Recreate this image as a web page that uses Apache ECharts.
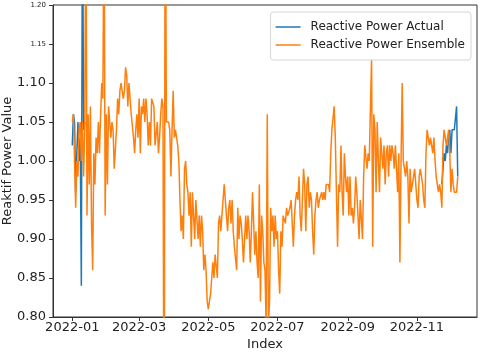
<!DOCTYPE html>
<html>
<head>
<meta charset="utf-8">
<script src="https://cdn.jsdelivr.net/npm/echarts@6/dist/echarts.min.js"></script>
<style>
  html, body { margin: 0; padding: 0; background: #fff; }
  #chart { width: 480px; height: 354px; }
</style>
</head>
<body>
<div id="chart"></div>
<script>
// day offsets from 2022-01-01
const tickDays = [0, 59, 120, 181, 243, 304];
const tickLabels = ['2022-01', '2022-03', '2022-05', '2022-07', '2022-09', '2022-11'];

// Reactive Power Ensemble, daily from 2022-01-01 (day 0) to day 340
const ensemble = [
    1.05, 1.06, 1.06, 0.94, 1.00, 0.98, 1.04, 1.05, 1.00, 1.05,
    0.98, 1.04, 1.35, 0.93, 1.06, 0.97, 1.07, 0.92, 0.86, 1.01,
    0.97, 1.03, 1.01, 1.05, 1.01, 1.06, 1.10, 1.08, 1.35, 0.93,
    1.06, 0.97, 1.07, 1.07, 1.03, 1.05, 1.04, 0.99, 0.99, 1.04,
    1.08, 1.06, 1.09, 1.10, 1.09, 1.08, 1.09, 1.12, 1.11, 1.07,
    1.10, 1.08, 1.06, 1.06, 1.03, 1.01, 1.04, 1.06, 1.03, 1.08,
    1.01, 1.07, 1.06, 1.08, 1.05, 1.08, 1.06, 1.02, 1.05, 1.02,
    1.08, 1.08, 1.07, 1.02, 1.02, 1.05, 1.01, 1.03, 1.06, 1.08,
    1.07, 0.55, 1.45, 1.05, 1.05, 1.05, 1.04, 0.98, 1.04, 1.09,
    1.03, 1.04, 1.04, 1.02, 1.00, 0.95, 0.91, 0.93, 0.90, 0.99,
    1.00, 0.97, 0.96, 0.93, 0.96, 0.89, 0.96, 0.93, 0.90, 0.95,
    0.95, 0.90, 0.93, 0.89, 0.93, 0.91, 0.86, 0.88, 0.86, 0.82,
    0.81, 0.81, 0.83, 0.85, 0.87, 0.85, 0.88, 0.88, 0.85, 0.92,
    0.93, 0.91, 0.93, 0.95, 0.97, 0.95, 0.93, 0.91, 0.94, 0.95,
    0.92, 0.95, 0.91, 0.89, 0.89, 0.86, 0.94, 0.90, 0.93, 0.92,
    0.90, 0.87, 0.87, 0.93, 0.90, 0.93, 0.91, 0.87, 0.91, 0.96,
    0.92, 0.88, 0.91, 0.87, 0.85, 0.97, 0.82, 0.93, 0.91, 0.87,
    0.86, 0.79, 1.06, 0.79, 0.82, 0.94, 0.91, 0.93, 0.89, 0.93,
    0.90, 0.91, 0.86, 0.83, 0.91, 0.89, 0.93, 0.93, 0.92, 0.94,
    0.93, 0.93, 0.94, 0.95, 0.95, 0.89, 0.93, 0.95, 0.96, 0.95,
    0.98, 0.93, 0.91, 0.95, 0.99, 0.97, 0.91, 0.97, 0.98, 0.94,
    0.96, 0.95, 0.91, 0.88, 0.93, 0.95, 0.96, 0.94, 0.95, 0.95,
    0.96, 0.95, 0.96, 0.95, 0.97, 0.97, 0.97, 0.96, 1.01, 1.04,
    1.04, 1.07, 1.03, 0.96, 0.89, 0.97, 0.96, 1.02, 0.96, 0.93,
    1.01, 0.98, 0.96, 0.98, 0.93, 0.98, 0.93, 0.94, 0.92, 0.94,
    0.98, 0.96, 0.96, 0.90, 0.95, 0.95, 0.90, 0.98, 1.02, 1.02,
    0.99, 1.01, 1.00, 1.07, 1.13, 0.89, 1.06, 1.04, 0.96, 1.05,
    1.00, 0.96, 1.03, 1.03, 0.99, 1.02, 0.97, 1.01, 1.02, 0.98,
    1.02, 1.00, 1.02, 1.01, 0.99, 1.02, 1.02, 0.96, 1.01, 0.87,
    1.00, 1.10, 1.00, 0.99, 0.98, 1.00, 0.98, 0.92, 0.99, 0.96,
    0.96, 0.98, 0.99, 0.97, 0.95, 0.94, 0.98, 0.99, 0.99, 0.97,
    0.95, 0.94, 1.01, 1.04, 1.03, 1.02, 1.03, 1.02, 1.01, 1.03,
    1.00, 0.98, 0.97, 0.96, 0.97, 0.96, 0.94, 1.02, 1.04, 1.04,
    1.02, 1.02, 1.04, 1.01, 0.96, 0.99, 0.97, 0.96, 0.96, 0.96,
    0.98
];

// Reactive Power Actual: only where it differs from the ensemble (elsewhere hidden beneath it)
const actualHeadStart = 0;
const actualHead = [1.02, 1.06, 1.05, 0.96, 1.01, 1.05, 1.00, 1.03, 0.84, 1.35, 1.04, 1.05];
const actualTailStart = 326;
const actualTail = [0.97, 0.99, 1.01, 1.00, 1.02, 1.01, 1.03, 1.04, 1.01, 1.04, 1.04, 1.04, 1.04, 1.07, 0.98];

const FONT = 'DejaVu Sans';
const BLUE = '#1f77b4';
const ORANGE = '#ff7f0e';
const AXIS = '#333';
// plain line swatch for the legend (move-tos keep the full 25x14 box)
const LINE_ICON = 'path://M0,0 M25,14 M0,6.25 L25,6.25 L25,7.75 L0,7.75 Z';

const chart = echarts.init(document.getElementById('chart'), null, { renderer: 'canvas' });

const lineSeries = (name, color, start, values) => ({
    name,
    type: 'line',
    data: values.map((v, i) => [start + i, v]),
    symbol: 'none',
    lineStyle: { width: 1.5, color },
    itemStyle: { color },
    clip: true,
});

chart.setOption({
    animation: false,
    backgroundColor: '#fff',
    textStyle: { fontFamily: FONT },
    grid: {
        left: 53, right: 3, top: 5, bottom: 37,
        containLabel: false, outerBoundsMode: 'none',
        show: true, borderColor: AXIS, borderWidth: 1, backgroundColor: 'transparent',
    },
    legend: {
        orient: 'vertical',
        right: 9,
        top: 12,
        padding: [8, 6, 8, 5],
        itemWidth: 25,
        itemHeight: 14,
        itemGap: 4,
        backgroundColor: 'rgba(255,255,255,0.8)',
        borderColor: '#d6d6d6',
        borderWidth: 1,
        borderRadius: 3,
        textStyle: { fontFamily: FONT, fontSize: 12, color: '#222', padding: [0, 0, 0, 5] },
        data: [
            { name: 'Reactive Power Actual', icon: LINE_ICON },
            { name: 'Reactive Power Ensemble', icon: LINE_ICON },
        ],
    },
    xAxis: {
        type: 'value',
        min: -17,
        max: 357,
        name: 'Index',
        nameLocation: 'middle',
        nameGap: 21,
        nameMoveOverlap: false,
        nameTextStyle: { fontFamily: FONT, fontSize: 13, color: '#222' },
        axisLine: { show: true, onZero: false, lineStyle: { color: AXIS, width: 1 } },
        axisTick: { show: true, length: 4, lineStyle: { color: AXIS }, customValues: tickDays },
        axisLabel: {
            customValues: tickDays,
            margin: 4,
            fontFamily: FONT, fontSize: 13, color: '#222',
            formatter: v => tickLabels[tickDays.indexOf(v)] || '',
        },
        splitLine: { show: false },
    },
    yAxis: {
        type: 'value',
        min: 0.8,
        max: 1.2,
        interval: 0.05,
        name: 'Reaktif Power Value',
        nameLocation: 'middle',
        nameGap: 39,
        nameMoveOverlap: false,
        nameTextStyle: { fontFamily: FONT, fontSize: 13, color: '#222' },
        axisLine: { show: true, onZero: false, lineStyle: { color: AXIS, width: 1 } },
        axisTick: { show: true, length: 4, lineStyle: { color: AXIS } },
        axisLabel: {
            margin: 7,
            fontFamily: FONT, fontSize: 13, color: '#222',
            formatter: v => v > 1.125 ? '{s|' + v.toFixed(2) + '}' : v.toFixed(2),
            rich: { s: { fontFamily: FONT, fontSize: 7, color: '#222' } },
        },
        splitLine: { show: false },
    },
    series: [
        lineSeries('Reactive Power Actual', BLUE, actualHeadStart, actualHead),
        lineSeries('Reactive Power Actual', BLUE, actualTailStart, actualTail),
        lineSeries('Reactive Power Ensemble', ORANGE, 0, ensemble),
    ],
});
</script>
</body>
</html>
